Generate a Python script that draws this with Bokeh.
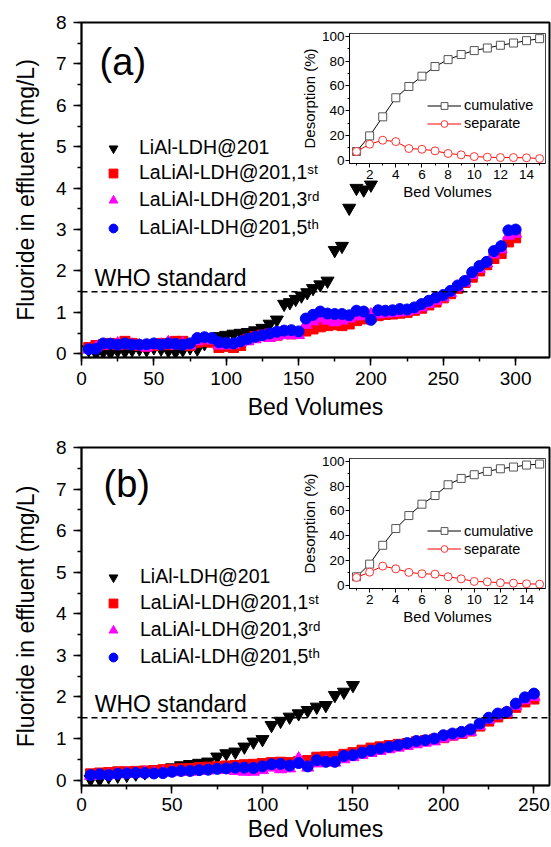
from bokeh.plotting import figure
from bokeh.models import Range1d, SingleIntervalTicker, Span, Label, Legend, LegendItem
from bokeh.embed import file_html
from bokeh.resources import INLINE

FONT = "Liberation Sans"

# ---------------- Panel (a) data ----------------
bv_a = list(range(5, 305, 5))
lial_a_bv = list(range(5, 135, 5)) + [135, 140, 144, 148, 152, 156, 160, 165, 170, 175, 180, 185, 190, 195, 200]
lial_a = [0.10, 0.02, 0.05, 0.03, 0.08, 0.06, 0.10, 0.12, 0.10, 0.15, 0.12, 0.08, 0.05,
          0.10, 0.15, 0.12, 0.25, 0.35, 0.42, 0.45, 0.48, 0.50, 0.52, 0.56, 0.62, 0.72,
          0.82, 1.20, 1.24, 1.32, 1.40, 1.48, 1.58, 1.67, 1.76, 2.50, 2.60, 3.52, 4.00, 3.96, 4.08]
run1_a = [0.15, 0.20, 0.22, 0.25, 0.22, 0.30, 0.25, 0.20, 0.18, 0.20,
          0.25, 0.22, 0.30, 0.30, 0.20, 0.28, 0.30, 0.28, 0.15, 0.18,
          0.15, 0.20, 0.35, 0.42, 0.45, 0.48, 0.45, 0.52, 0.48, 0.50,
          0.55, 0.60, 0.65, 0.68, 0.70, 0.68, 0.72, 0.80, 0.84, 0.88,
          0.92, 0.95, 0.96, 0.98, 1.00, 1.05, 1.10, 1.18, 1.25, 1.35,
          1.45, 1.58, 1.72, 1.85, 2.00, 2.15, 2.30, 2.42, 2.70, 2.80]
run3_a = [0.10, 0.15, 0.20, 0.22, 0.25, 0.20, 0.22, 0.20, 0.15, 0.20,
          0.22, 0.28, 0.20, 0.25, 0.20, 0.30, 0.35, 0.32, 0.20, 0.20,
          0.22, 0.28, 0.30, 0.35, 0.40, 0.38, 0.42, 0.45, 0.45, 0.45,
          0.70, 0.78, 0.85, 0.80, 0.76, 0.80, 0.85, 0.90, 0.92, 0.95,
          0.95, 0.97, 0.98, 1.00, 1.02, 1.06, 1.12, 1.20, 1.28, 1.36,
          1.47, 1.60, 1.72, 1.90, 2.05, 2.18, 2.40, 2.52, 2.85, 2.90]
run5_a = [0.11, 0.12, 0.25, 0.24, 0.22, 0.25, 0.22, 0.22, 0.23, 0.25,
          0.22, 0.25, 0.24, 0.22, 0.25, 0.38, 0.40, 0.38, 0.28, 0.26,
          0.25, 0.30, 0.36, 0.41, 0.45, 0.49, 0.53, 0.56, 0.57, 0.54,
          0.85, 0.94, 1.02, 0.97, 0.96, 0.96, 0.93, 1.04, 1.02, 0.82,
          1.05, 1.04, 1.05, 1.08, 1.07, 1.12, 1.20, 1.28, 1.36, 1.42,
          1.52, 1.65, 1.76, 1.97, 2.12, 2.22, 2.48, 2.60, 2.98, 3.00]

# inset (a)
inset_bv = list(range(1, 16))
cum_a = [7.0, 19.6, 35.0, 50.4, 59.5, 67.8, 75.6, 81.2, 85.3, 88.5, 90.6, 92.8, 94.6, 96.5, 98.1]
sep_a = [7.0, 12.9, 16.1, 15.0, 9.4, 8.8, 7.5, 5.4, 4.3, 2.9, 2.4, 2.1, 2.1, 1.9, 1.3]

# ---------------- Panel (b) data ----------------
bv_b = list(range(5, 255, 5))
lial_b_bv = list(range(5, 155, 5))
lial_b = [0.02, 0.02, 0.08, 0.10, 0.12, 0.15, 0.18, 0.22, 0.26, 0.30,
          0.35, 0.38, 0.41, 0.44, 0.56, 0.64, 0.68, 0.80, 0.92, 0.98,
          1.32, 1.42, 1.52, 1.60, 1.68, 1.76, 1.80, 2.04, 2.12, 2.28]
run1_b = [0.15, 0.17, 0.18, 0.20, 0.20, 0.21, 0.22, 0.23, 0.25, 0.26,
          0.27, 0.28, 0.30, 0.31, 0.32, 0.34, 0.35, 0.37, 0.38, 0.40,
          0.42, 0.43, 0.42, 0.45, 0.47, 0.55, 0.56, 0.57, 0.62, 0.66,
          0.72, 0.77, 0.80, 0.83, 0.86, 0.88, 0.92, 0.95, 0.98, 1.02,
          1.08, 1.12, 1.18, 1.30, 1.42, 1.52, 1.60, 1.75, 1.88, 1.95]
run3_b = [0.10, 0.12, 0.12, 0.14, 0.15, 0.16, 0.18, 0.17, 0.18, 0.19,
          0.20, 0.20, 0.22, 0.23, 0.24, 0.25, 0.22, 0.20, 0.20, 0.24,
          0.30, 0.26, 0.28, 0.52, 0.30, 0.40, 0.45, 0.42, 0.50, 0.55,
          0.60, 0.65, 0.70, 0.74, 0.78, 0.82, 0.86, 0.90, 0.93, 1.00,
          1.05, 1.10, 1.16, 1.30, 1.45, 1.55, 1.62, 1.78, 1.92, 2.00]
run5_b = [0.12, 0.14, 0.12, 0.15, 0.16, 0.17, 0.17, 0.16, 0.17, 0.20,
          0.22, 0.22, 0.24, 0.25, 0.27, 0.28, 0.30, 0.30, 0.29, 0.33,
          0.38, 0.39, 0.35, 0.41, 0.33, 0.48, 0.44, 0.44, 0.58, 0.60,
          0.66, 0.71, 0.76, 0.80, 0.84, 0.89, 0.94, 0.96, 1.00, 1.08,
          1.12, 1.16, 1.22, 1.36, 1.50, 1.60, 1.64, 1.84, 1.99, 2.08]

# inset (b)
cum_b = [6.8, 17.0, 32.2, 45.7, 56.2, 65.4, 72.4, 81.1, 86.2, 89.2, 91.9, 94.0, 95.4, 97.0, 97.8]
sep_b = [6.2, 10.5, 15.4, 13.2, 10.3, 9.2, 8.9, 6.8, 5.1, 3.0, 2.7, 1.9, 1.6, 1.1, 0.8]

WHO_LIMIT = 1.5
series_labels = ["LiAl-LDH@201", "LaLiAl-LDH@201,1\u02e2\u1d57",
                 "LaLiAl-LDH@201,3\u02b3\u1d48", "LaLiAl-LDH@201,5\u1d57\u02b0"]
inset_labels = ["cumulative", "separate"]


def style_axes(p, tick_size, label_size, tick_out, minor_out, lw):
    for ax in (p.xaxis[0], p.yaxis[0]):
        ax.major_label_text_font = FONT
        ax.major_label_text_font_size = tick_size
        ax.major_label_text_color = "black"
        ax.axis_label_text_font = FONT
        ax.axis_label_text_font_size = label_size
        ax.axis_label_text_font_style = "normal"
        ax.axis_label_text_color = "black"
        ax.axis_line_width = lw
        ax.axis_line_color = "black"
        ax.major_tick_line_width = lw
        ax.minor_tick_line_width = lw
        ax.major_tick_line_color = "black"
        ax.minor_tick_line_color = "black"
        ax.major_tick_in = 0
        ax.minor_tick_in = 0
        ax.major_tick_out = tick_out
        ax.minor_tick_out = minor_out
    p.xgrid.visible = False
    p.ygrid.visible = False


def legend_item(p, label, renderers, loc, glyph_w, row_h, standoff, size):
    p.add_layout(Legend(items=[LegendItem(label=label, renderers=renderers)],
                        location=loc, glyph_width=glyph_w, glyph_height=row_h,
                        label_height=row_h, label_standoff=standoff, spacing=0,
                        padding=0, margin=0, border_line_color=None,
                        background_fill_alpha=0, label_text_font=FONT,
                        label_text_font_size=size, label_text_color="black"))


def main_panel(tag, bv, lbv, lial, r1, r3, r5, xmax, ymin, top, frame_h,
               border_top, border_bottom, tag_xy, who_xy, leg_x, leg_ys, leg_standoff,
               x_tick_standoff, x_label_standoff):
    p = figure(width=551, height=border_top + frame_h + border_bottom,
               frame_width=468, frame_height=frame_h,
               x_range=Range1d(0, xmax), y_range=Range1d(ymin, 8),
               output_backend="svg", toolbar_location=None,
               min_border_left=81, min_border_right=2, min_border_top=border_top,
               min_border_bottom=border_bottom,
               outline_line_color="black", outline_line_width=2,
               styles={"position": "absolute", "left": "0px", "top": f"{top}px", "z-index": "1"})
    p.xaxis.ticker = SingleIntervalTicker(interval=50, num_minor_ticks=2)
    p.yaxis.ticker = SingleIntervalTicker(interval=1, num_minor_ticks=2)
    p.xaxis.axis_label = "Bed Volumes"
    p.yaxis.axis_label = "Fluoride in effluent (mg/L)"
    style_axes(p, "19px", "23px", 8, 4, 1.5)
    p.xaxis.major_label_standoff = x_tick_standoff
    p.yaxis.major_label_standoff = 7
    p.xaxis.axis_label_standoff = x_label_standoff
    p.yaxis.axis_label_standoff = 14

    p.add_layout(Span(location=WHO_LIMIT, dimension="width", line_color="black",
                      line_width=1.5, line_dash="6 4"))

    ra = p.scatter(lbv, lial, marker="inverted_triangle", size=13, color="black")
    rb = p.scatter(bv, r1, marker="square", size=10, color="#ff0000")
    rc = p.scatter(bv, r3, marker="triangle", size=12, color="#ff00ff")
    rd = p.scatter(bv, r5, marker="circle", size=11, color="#0000ff")

    for lab, r, ly in zip(series_labels, [ra, rb, rc, rd], leg_ys):
        legend_item(p, lab, [r], (leg_x, ly), 24, 22, leg_standoff, "19.5px")

    p.add_layout(Label(x=tag_xy[0], y=tag_xy[1], text=tag, text_font=FONT,
                       text_font_size="38px", text_baseline="middle", text_color="black"))
    p.add_layout(Label(x=who_xy[0], y=who_xy[1], text="WHO standard", text_font=FONT,
                       text_font_size="23px", text_baseline="bottom", text_color="black"))
    return p


INSET_BORDER_LEFT = 62
INSET_BORDER_TOP = 5


def inset_panel(cum, sep, frame_top):
    f = figure(width=INSET_BORDER_LEFT + 196 + 4, height=INSET_BORDER_TOP + 130 + 50,
               frame_width=196, frame_height=130,
               x_range=Range1d(0.46, 15.45), y_range=Range1d(-2.7, 102.3),
               output_backend="svg", toolbar_location=None,
               min_border_left=INSET_BORDER_LEFT, min_border_right=4,
               min_border_top=INSET_BORDER_TOP, min_border_bottom=50,
               border_fill_color=None, background_fill_color=None,
               outline_line_color="#444444", outline_line_width=1,
               styles={"position": "absolute", "left": f"{349 - INSET_BORDER_LEFT}px",
                       "top": f"{frame_top - INSET_BORDER_TOP}px", "z-index": "2"})
    f.xaxis.ticker = SingleIntervalTicker(interval=2, num_minor_ticks=2)
    f.yaxis.ticker = SingleIntervalTicker(interval=20, num_minor_ticks=2)
    f.xaxis.axis_label = "Bed Volumes"
    f.yaxis.axis_label = "Desorption (%)"
    style_axes(f, "13.5px", "15px", 4, 2, 1)
    f.xaxis.major_label_standoff = 2
    f.yaxis.major_label_standoff = 1
    f.xaxis.axis_label_standoff = 1
    f.yaxis.axis_label_standoff = 1

    l1 = f.line(inset_bv, cum, line_color="black", line_width=1)
    s1 = f.scatter(inset_bv, cum, marker="square", size=8, line_color="#555555",
                   fill_color="white", line_width=1)
    l2 = f.line(inset_bv, sep, line_color="#ff0000", line_width=1)
    s2 = f.scatter(inset_bv, sep, marker="circle", size=8, line_color="#ff3333",
                   fill_color="white", line_width=1)
    legend_item(f, inset_labels[0], [l1, s1], (78, 49), 34, 17, 3, "14.5px")
    legend_item(f, inset_labels[1], [l2, s2], (78, 31), 34, 17, 3, "14.5px")
    return f


pa = main_panel("(a)", bv_a, lial_a_bv, lial_a, run1_a, run3_a, run5_a,
                323.4, -0.09, 0, 335, 22, 80, (12.5, 7.05), (9, 1.52),
                20, [198, 173, 146, 118], 14, 6, 6)
pb = main_panel("(b)", bv_b, lial_b_bv, lial_b, run1_b, run3_b, run5_b,
                258.6, -0.13, 437, 338, 10, 62, (12.2, 7.12), (7.3, 1.52),
                20, [197, 171, 144, 117], 15, 4, 2)
ia = inset_panel(cum_a, sep_a, 32.7)
ib = inset_panel(cum_b, sep_b, 458.3)

open("out.html", "w").write(file_html([pa, pb, ia, ib], INLINE))
